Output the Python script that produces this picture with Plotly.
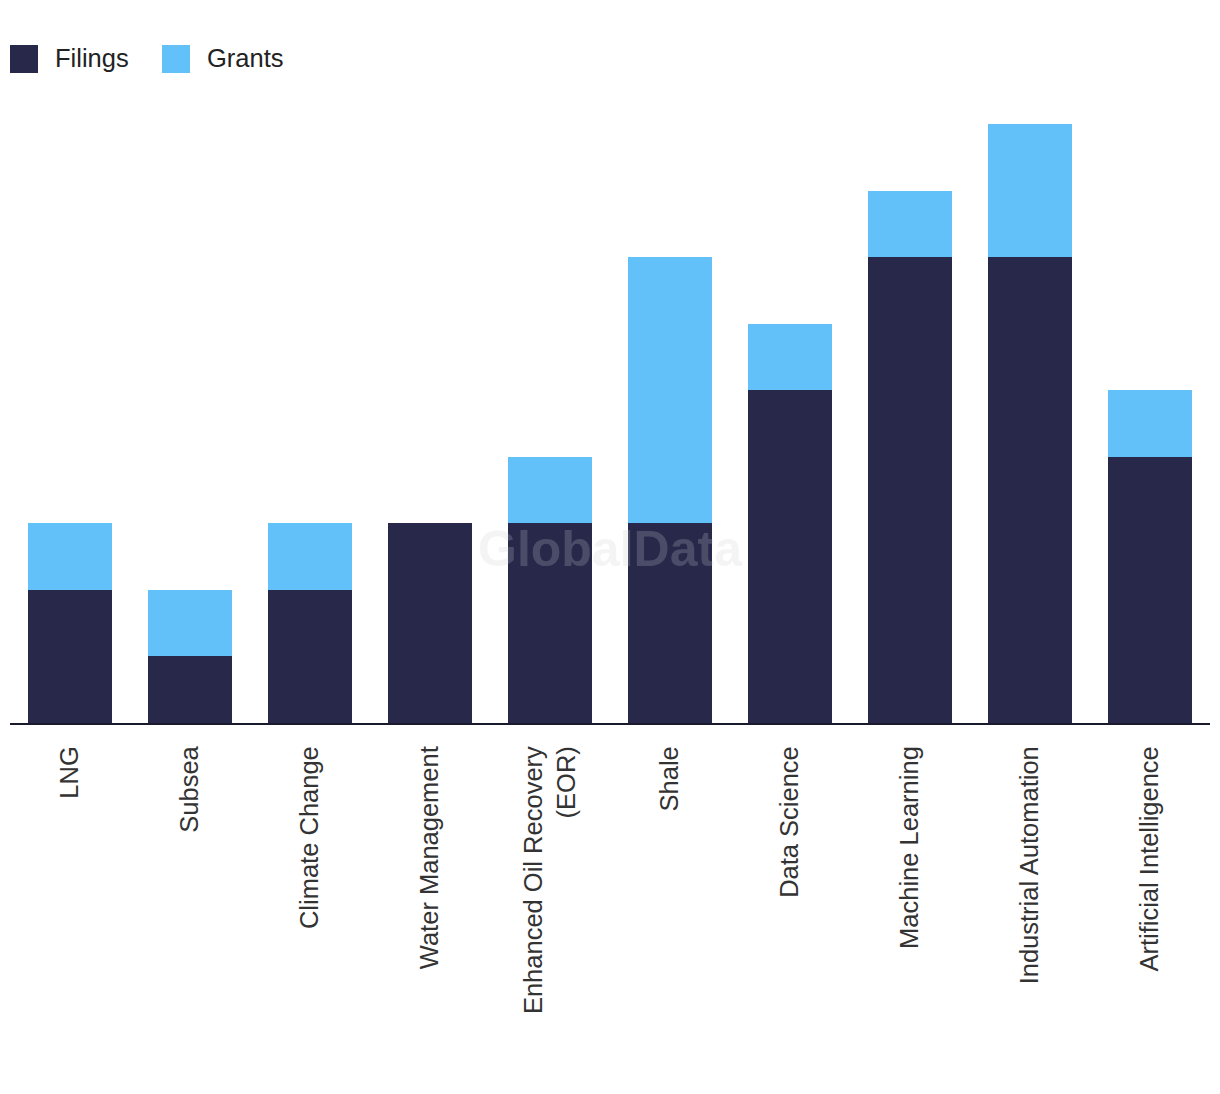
import plotly.graph_objects as go

categories = ["LNG", "Subsea", "Climate Change", "Water Management",
              "Enhanced Oil Recovery<br>(EOR)", "Shale", "Data Science",
              "Machine Learning", "Industrial Automation", "Artificial Intelligence"]
filings = [2, 1, 2, 3, 3, 3, 5, 7, 7, 4]
grants = [1, 1, 1, 0, 1, 4, 1, 1, 2, 1]

c_fil = "#27284a"
c_gr = "#62c1f9"

fig = go.Figure()
fig.add_trace(go.Bar(x=categories, y=filings, name="Filings", marker_color=c_fil,
                     marker_line_width=0, showlegend=False))
fig.add_trace(go.Bar(x=categories, y=grants, name="Grants", marker_color=c_gr,
                     marker_line_width=0, showlegend=False))

font_family = "Liberation Sans, Arial, sans-serif"

fig.update_layout(
    barmode="stack",
    bargap=0.3,
    width=1220, height=1094,
    margin=dict(l=10, r=10, t=124, b=371),
    paper_bgcolor="white", plot_bgcolor="white",
    font=dict(family=font_family, size=20, color="#333333"),
    xaxis=dict(tickangle=-90, showline=True, linecolor="#1a1a2e", linewidth=2,
               ticks="outside", ticklen=11, tickcolor="rgba(0,0,0,0)",
               tickfont=dict(size=25.5, color="#333333", family=font_family),
               showgrid=False, fixedrange=True),
    yaxis=dict(range=[0, 9], visible=False, showgrid=False, fixedrange=True),
)

# legend built with shapes + text
legend_items = [("Filings", c_fil, 10), ("Grants", c_gr, 162)]
for name, col, x0 in legend_items:
    fig.add_shape(type="rect", xref="paper", yref="paper",
                  x0=(x0 - 10) / 1200, x1=(x0 + 18) / 1200,
                  y0=(723 - 73) / 599, y1=(723 - 45) / 599,
                  fillcolor=col, line_width=0)
    fig.add_annotation(x=(x0 + 33) / 1200, y=(723 - 58) / 599, xref="paper", yref="paper",
                       text=name, showarrow=False, xanchor="left", yanchor="middle",
                       font=dict(size=25.5, color="#222222", family=font_family))

fig.add_annotation(x=600 / 1200, y=(723 - 579) / 599, xref="paper", yref="paper",
                   text="<b>GlobalData</b>", showarrow=False,
                   font=dict(size=50, color="rgba(204,204,210,0.22)", family=font_family))

fig.write_html("out.html")
